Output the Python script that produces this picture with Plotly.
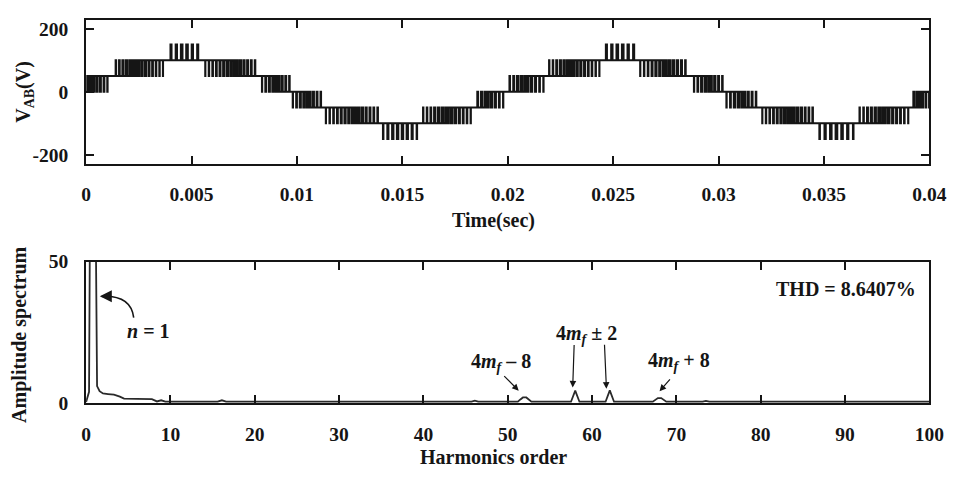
import plotly.graph_objects as go

W, H = 964, 483
INK = "#151515"
SERIF = "Liberation Serif, Times New Roman, serif"

# ---- Line voltage V_AB: staircase with PWM switching between adjacent levels ----
# each switching band: start/end time, the two levels, the level held after the band,
# and the fraction of each switching slot spent at the upper level
SEG_T0 = [0.0, 0.00133, 0.0039, 0.00565, 0.00834, 0.0098, 0.01137, 0.01408, 0.0159, 0.01848,
          0.0200, 0.02188, 0.02455, 0.02628, 0.02883, 0.03037, 0.03207, 0.03478, 0.0366, 0.03918]
SEG_T1 = [0.00102, 0.00365, 0.00542, 0.0081, 0.00973, 0.01122, 0.01392, 0.0157, 0.01825, 0.01979,
          0.0217, 0.02435, 0.0261, 0.02852, 0.03027, 0.03187, 0.03455, 0.0364, 0.039, 0.04]
SEG_LO = [0, 50, 100, 50, 0, -50, -100, -150, -100, -50,
          0, 50, 100, 50, 0, -50, -100, -150, -100, -50]
SEG_HI = [50, 100, 150, 100, 50, 0, -50, -100, -50, 0,
          50, 100, 150, 100, 50, 0, -50, -100, -50, 0]
SEG_HOLD = [50, 100, 100, 50, 0, -50, -100, -100, -50, 0,
            50, 100, 100, 50, 0, -50, -100, -100, -50, 0]
SEG_DUTY = [
    [0.4, 0.5, 0.6, 0.65, 0.75, 0.8],
    [0.15, 0.2, 0.3, 0.35, 0.4, 0.5, 0.55, 0.6, 0.65, 0.7, 0.75, 0.8, 0.85, 0.9],
    [0.2, 0.25, 0.3, 0.3, 0.25, 0.2],
    [0.9, 0.85, 0.8, 0.75, 0.7, 0.65, 0.6, 0.55, 0.5, 0.4, 0.35, 0.3, 0.2, 0.15],
    [0.85, 0.75, 0.65, 0.55, 0.45, 0.35, 0.25, 0.15],
    [0.85, 0.75, 0.65, 0.55, 0.45, 0.35, 0.25, 0.15],
    [0.9, 0.85, 0.8, 0.75, 0.7, 0.65, 0.6, 0.5, 0.45, 0.4, 0.3, 0.25, 0.2, 0.15],
    [0.8, 0.75, 0.7, 0.7, 0.7, 0.75, 0.8],
    [0.1, 0.15, 0.2, 0.3, 0.35, 0.4, 0.5, 0.55, 0.6, 0.7, 0.75, 0.8, 0.85],
    [0.2, 0.35, 0.45, 0.55, 0.65, 0.75, 0.85],
    [0.15, 0.25, 0.35, 0.45, 0.5, 0.6, 0.7, 0.8, 0.85],
    [0.1, 0.15, 0.25, 0.3, 0.4, 0.45, 0.5, 0.6, 0.65, 0.7, 0.75, 0.8, 0.85, 0.9],
    [0.2, 0.25, 0.3, 0.3, 0.25, 0.2],
    [0.9, 0.85, 0.8, 0.7, 0.65, 0.6, 0.5, 0.45, 0.4, 0.3, 0.25, 0.15],
    [0.85, 0.75, 0.65, 0.55, 0.45, 0.35, 0.25, 0.15],
    [0.85, 0.75, 0.65, 0.55, 0.45, 0.35, 0.25, 0.15],
    [0.9, 0.85, 0.8, 0.75, 0.7, 0.6, 0.55, 0.5, 0.45, 0.4, 0.3, 0.25, 0.2, 0.15],
    [0.8, 0.75, 0.7, 0.7, 0.75, 0.8],
    [0.1, 0.15, 0.25, 0.3, 0.35, 0.45, 0.5, 0.55, 0.65, 0.7, 0.75, 0.8, 0.9],
    [0.3, 0.45, 0.55, 0.7, 0.8],
]

TIME_TICKS = [0, 0.005, 0.01, 0.015, 0.02, 0.025, 0.03, 0.035, 0.04]
TIME_LABELS = ["0", "0.005", "0.01", "0.015", "0.02", "0.025", "0.03", "0.035", "0.04"]
VOLT_TICKS = [-200, 0, 200]
VOLT_LABELS = ["-200", "0", "200"]

# ---- Harmonic spectrum of V_AB ----
SPEC_H = [0, 0.2, 0.35, 0.45, 0.8, 1.15, 1.3, 1.6, 2.0, 2.6,
          3.3, 4.0, 4.5, 6.0, 7.8, 8.4, 8.9, 9.4, 15.6, 16.1,
          16.6, 45.7, 46.1, 46.5, 51.2, 51.5, 51.8, 52.2, 52.5, 52.8,
          57.5, 58.0, 58.5, 61.6, 62.1, 62.6, 67.2, 67.5, 67.8, 68.2,
          68.5, 68.8, 73.1, 73.5, 73.9, 100]
SPEC_A = [0.4, 2.5, 4.0, 60, 130, 60, 6.0, 4.2, 3.4, 3.2,
          3.0, 2.3, 1.6, 1.5, 1.4, 0.6, 1.0, 0.5, 0.5, 1.0,
          0.5, 0.5, 0.9, 0.5, 0.5, 1.3, 2.0, 2.0, 1.3, 0.5,
          0.5, 4.4, 0.5, 0.5, 4.5, 0.5, 0.5, 1.2, 1.8, 1.8,
          1.2, 0.5, 0.5, 0.8, 0.5, 0.5]
HARM_TICKS = [0, 10, 20, 30, 40, 50, 60, 70, 80, 90, 100]
AMP_TICKS = [0, 50]
THD_TEXT = "THD = 8.6407%"


def px_x(p):
    """pixel column -> paper fraction"""
    return p / W


def px_y(p):
    """pixel row -> paper fraction"""
    return 1 - p / H


# build the switching waveform as a step trace
t_pts, v_pts = [], []
for t0, t1, lo, hi, hold, duty in zip(SEG_T0, SEG_T1, SEG_LO, SEG_HI, SEG_HOLD, SEG_DUTY):
    slot = (t1 - t0) / len(duty)
    for k, d in enumerate(duty):
        s = t0 + k * slot
        c = s + slot / 2
        t_pts += [s, c - d * slot / 2, c + d * slot / 2]
        v_pts += [lo, hi, lo]
    t_pts.append(t1)
    v_pts.append(hold)

fig = go.Figure()
fig.add_trace(go.Scatter(x=t_pts, y=v_pts, mode="lines", line=dict(color="#151515", width=2.0, shape="hv"),
                         xaxis="x", yaxis="y", showlegend=False, hoverinfo="skip"))
fig.add_trace(go.Scatter(x=SPEC_H, y=SPEC_A, mode="lines", line=dict(color="#2a2a2a", width=1.8),
                         xaxis="x2", yaxis="y2", showlegend=False, hoverinfo="skip"))

tickfont = dict(family=SERIF, size=19.5, color=INK, weight="bold")
axis_common = dict(showline=True, mirror="ticks", linewidth=2, linecolor=INK, ticks="inside",
                   ticklen=8, tickwidth=2, tickcolor=INK, showgrid=False, zeroline=False,
                   tickfont=tickfont, ticklabelstandoff=12)

x_dom = [px_x(83), px_x(946)]
fig.update_layout(
    width=W, height=H, margin=dict(l=0, r=0, t=0, b=0),
    paper_bgcolor="white", plot_bgcolor="white",
    xaxis=dict(domain=x_dom, range=[0, 0.04], anchor="y", tickvals=TIME_TICKS, ticktext=TIME_LABELS, **axis_common),
    yaxis=dict(domain=[px_y(161), px_y(10)], range=[-229, 229], anchor="x", tickvals=VOLT_TICKS,
               ticktext=VOLT_LABELS, **axis_common),
    xaxis2=dict(domain=x_dom, range=[0, 100], anchor="y2", tickvals=HARM_TICKS, **axis_common),
    yaxis2=dict(domain=[px_y(411), px_y(263)], range=[0, 50], anchor="x2", tickvals=AMP_TICKS, **axis_common),
)

label_font = dict(family=SERIF, size=20, color=INK)
ann = []
# axis titles
ann.append(dict(text="<b>Time(sec)</b>", x=px_x(500), y=px_y(220)))
ann.append(dict(text="<b>Harmonics order</b>", x=px_x(500), y=px_y(467)))
ann.append(dict(text="<b>V<sub>AB</sub>(V)</b>", x=px_x(20), y=px_y(86), textangle=-90))
ann.append(dict(text="<b>Amplitude spectrum</b>", x=px_x(15), y=px_y(340), textangle=-90))
# spectrum labels
ann.append(dict(text="<b>" + THD_TEXT + "</b>", x=px_x(861), y=px_y(292)))
ann.append(dict(text="<b><i>n</i> = 1</b>", x=px_x(146.5), y=px_y(336)))
ann.append(dict(text="<b>4<i>m<sub>f</sub></i> – 8</b>", x=px_x(507.5), y=px_y(369)))
ann.append(dict(text="<b>4<i>m<sub>f</sub></i> ± 2</b>", x=px_x(595), y=px_y(339)))
ann.append(dict(text="<b>4<i>m<sub>f</sub></i> + 8</b>", x=px_x(690), y=px_y(367)))
for a in ann:
    a.update(xref="paper", yref="paper", showarrow=False, font=label_font, xanchor="center", yanchor="middle")
    fig.add_annotation(**a)

# straight arrows pointing to the sideband harmonics
arrow_style = dict(xref="x2", yref="y2", text="", showarrow=True, arrowhead=2, arrowsize=1.1,
                   arrowwidth=1.2, arrowcolor=INK)
fig.add_annotation(x=51.3, y=4.4, ax=-16, ay=-16, **arrow_style)
fig.add_annotation(x=57.7, y=5.5, ax=1.5, ay=-44, **arrow_style)
fig.add_annotation(x=61.7, y=5.1, ax=-2, ay=-45.5, **arrow_style)
fig.add_annotation(x=68.0, y=4.2, ax=11.7, ay=-13.3, **arrow_style)

# curved arrow to the fundamental
fig.add_shape(type="path", xref="paper", yref="paper",
              path="M {:.5f},{:.5f} Q {:.5f},{:.5f} {:.5f},{:.5f}".format(
                  px_x(131.7), px_y(321.7), px_x(129), px_y(298), px_x(99), px_y(299.4)),
              line=dict(color=INK, width=1.6))
fig.add_annotation(x=px_x(97), y=px_y(299.3), xref="paper", yref="paper", text="", showarrow=True,
                   ax=10, ay=0, arrowhead=2, arrowsize=1.5, arrowwidth=1.6, arrowcolor=INK)

fig.write_html("out.html")
